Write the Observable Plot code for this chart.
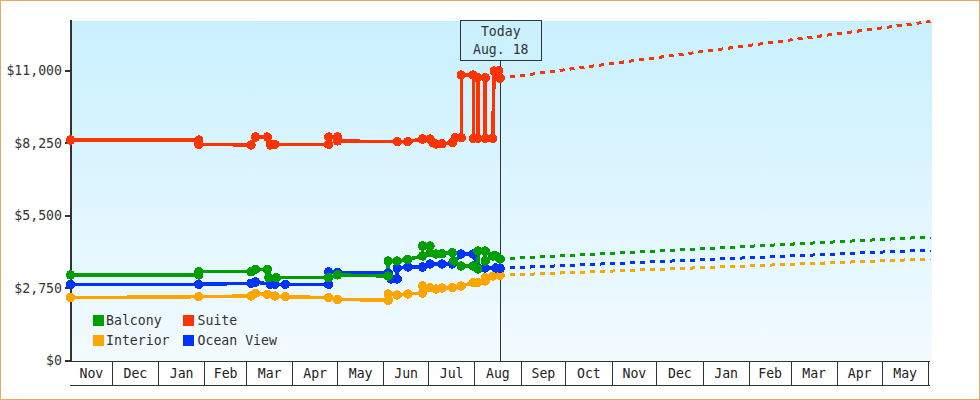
<!DOCTYPE html>
<html>
<head>
<meta charset="utf-8">
<script src="https://cdn.jsdelivr.net/npm/d3@7"></script>
<script src="https://cdn.jsdelivr.net/npm/@observablehq/plot@0.6"></script>
<style>
  html, body { margin: 0; padding: 0; background: #fff; overflow: hidden; width: 980px; height: 400px; }
  #wrap { position: relative; width: 980px; height: 400px; font-family: "DejaVu Sans Mono", monospace; font-size: 13.2px; color: #333; }
  #wrap svg { position: absolute; left: 0; top: 0; shape-rendering: crispEdges; }
  #border { position: absolute; inset: 0; border: 1.5px solid #e8a964; box-sizing: border-box; pointer-events: none; }
  #today { position: absolute; left: 460px; top: 20px; width: 79.5px; border: 1px solid #333; text-align: center; line-height: 18px; padding-top: 2px; box-sizing: content-box; height: 37px; }
  .lg { position: absolute; white-space: pre; line-height: 12px; }
  .sw { position: absolute; width: 11px; height: 11px; }
</style>
</head>
<body>
<div id="wrap"></div>
<script>
const seriesNames = ["Balcony", "Suite", "Interior", "Ocean View"];
const seriesColors = ["#009f00", "#ff3300", "#ffa500", "#0033ff"];
const todayDate = "2017-08-18";
const endDate = "2018-06-02T12:00";
const startDate = "2016-11-03";

const suiteDates = ["2016-11-03","2017-01-28","2017-01-28","2017-03-04","2017-03-07","2017-03-15","2017-03-17","2017-03-20","2017-04-25","2017-04-25","2017-05-01","2017-05-01","2017-06-10","2017-06-17","2017-06-27","2017-07-02","2017-07-04","2017-07-06","2017-07-10","2017-07-17","2017-07-19","2017-07-23","2017-07-23","2017-07-31","2017-07-31","2017-08-03","2017-08-03","2017-08-08","2017-08-08","2017-08-13","2017-08-14","2017-08-17","2017-08-18"];
const suiteValues = [8382,8382,8219,8193,8496,8496,8193,8219,8219,8496,8496,8345,8318,8318,8420,8420,8280,8231,8242,8280,8470,8470,10848,10848,8447,8447,10745,10745,8447,8447,11000,11000,10723];

const balconyDates = ["2016-11-03","2017-01-28","2017-01-28","2017-03-04","2017-03-07","2017-03-15","2017-03-16","2017-03-21","2017-04-25","2017-05-01","2017-06-04","2017-06-04","2017-06-10","2017-06-17","2017-06-27","2017-06-27","2017-07-02","2017-07-02","2017-07-06","2017-07-10","2017-07-17","2017-07-18","2017-07-23","2017-07-31","2017-08-03","2017-08-03","2017-08-08","2017-08-08","2017-08-13","2017-08-15","2017-08-18"];
const balconyValues = [3262,3262,3387,3387,3478,3478,3160,3160,3160,3262,3224,3793,3793,3857,3983,4362,4362,4108,4059,4070,4108,3793,3603,3603,3490,4172,4172,3793,3983,3983,3869];

const oceanDates = ["2016-11-03","2017-01-28","2017-03-04","2017-03-07","2017-03-17","2017-03-20","2017-03-27","2017-04-25","2017-04-25","2017-05-01","2017-06-04","2017-06-06","2017-06-10","2017-06-10","2017-06-17","2017-06-27","2017-07-02","2017-07-10","2017-07-17","2017-07-23","2017-07-31","2017-08-03","2017-08-08","2017-08-15","2017-08-18"];
const oceanValues = [2909,2909,2947,2996,2909,2909,2909,2909,3376,3349,3338,3110,3110,3528,3565,3565,3679,3679,3679,4059,4059,3528,3528,3528,3516];

const interiorDates = ["2016-11-03","2017-01-28","2017-03-04","2017-03-07","2017-03-15","2017-03-20","2017-03-27","2017-04-25","2017-05-01","2017-06-04","2017-06-04","2017-06-10","2017-06-17","2017-06-27","2017-06-27","2017-07-02","2017-07-06","2017-07-10","2017-07-17","2017-07-23","2017-07-31","2017-08-03","2017-08-08","2017-08-08","2017-08-13","2017-08-18"];
const interiorValues = [2401,2439,2465,2568,2530,2465,2439,2401,2340,2302,2541,2503,2541,2579,2845,2780,2731,2769,2780,2845,2970,2970,3034,3160,3224,3251];

const forecastFrom = [3869, 10723, 3251, 3516];
const forecastTo = [4703, 12877, 3869, 4210];

const yTicks = [0, 2750, 5500, 8250, 11000];
const monthLabels = ["Nov","Dec","Jan","Feb","Mar","Apr","May","Jun","Jul","Aug","Sep","Oct","Nov","Dec","Jan","Feb","Mar","Apr","May"];
const monthStarts = ["2016-12-01","2017-01-01","2017-02-01","2017-03-01","2017-04-01","2017-05-01","2017-06-01","2017-07-01","2017-08-01","2017-09-01","2017-10-01","2017-11-01","2017-12-01","2018-01-01","2018-02-01","2018-03-01","2018-04-01","2018-05-01","2018-06-01"];

const D = s => new Date(s.length === 10 ? s + "T00:00" : s);
const history = [
  ["Interior", interiorDates, interiorValues],
  ["Ocean View", oceanDates, oceanValues],
  ["Balcony", balconyDates, balconyValues],
  ["Suite", suiteDates, suiteValues]
].flatMap(([s, ds, vs]) => ds.map((d, i) => ({series: s, date: D(d), value: vs[i]})));
const forecast = seriesNames.flatMap((s, i) => [
  {series: s, date: D(todayDate), value: forecastFrom[i]},
  {series: s, date: D(endDate), value: forecastTo[i]}
]);
const edges = [D(startDate), ...monthStarts.map(D)];
const months = monthLabels.map((m, i) => ({label: m, mid: new Date((+edges[i] + +edges[i + 1]) / 2)}));

const defs = () => {
  const ns = "http://www.w3.org/2000/svg";
  const d = document.createElementNS(ns, "defs");
  d.innerHTML = '<linearGradient id="bg" x1="0" y1="0" x2="0" y2="1"><stop offset="0" stop-color="#c9f0ff"/><stop offset="1" stop-color="#f3fbff"/></linearGradient>';
  return d;
};

const chart = Plot.plot({
  width: 980, height: 400,
  marginLeft: 70, marginRight: 50, marginTop: 20, marginBottom: 39.5,
  style: {fontFamily: '"DejaVu Sans Mono", monospace', fontSize: "13.2px", color: "#333", background: "transparent"},
  x: {type: "time", domain: [D(startDate), D(endDate)]},
  y: {type: "linear", domain: [0, 12915]},
  color: {domain: seriesNames, range: seriesColors},
  marks: [
    defs,
    Plot.frame({fill: "url(#bg)", stroke: "none", insetRight: -1}),
    Plot.ruleX([D(startDate)], {stroke: "#333", strokeWidth: 2, dx: 0.5}),
    Plot.axisY({ticks: yTicks, tickSize: 6, tickPadding: 3, tickFormat: d3.format("$,"), label: null, stroke: "#333", strokeWidth: 2, fill: "#333", dx: 0.5}),
    Plot.axisX({ticks: edges.slice(1), tickSize: 24.5, tickFormat: () => "", label: null, stroke: "#333", strokeWidth: 1}),
    Plot.ruleY([0], {stroke: "#333", strokeWidth: 1}),
    Plot.ruleY([0], {stroke: "#333", strokeWidth: 1, dy: 24.5}),
    Plot.text(months, {x: "mid", text: "label", frameAnchor: "bottom", dy: 13, lineAnchor: "middle", fill: "#222"}),
    Plot.ruleX([D(todayDate)], {y1: 0, y2: 11398, stroke: "#333", strokeWidth: 1}),
    Plot.line(forecast, {x: "date", y: "value", z: "series", stroke: "series", strokeWidth: 3, strokeDasharray: "5,5", curve: "linear", strokeLinecap: "butt"}),
    Plot.line(history, {x: "date", y: "value", z: "series", stroke: "series", strokeWidth: 3.5, curve: "linear"}),
    Plot.dot(history, {x: "date", y: "value", fill: "series", r: 4.7, stroke: "none"})
  ]
});

const wrap = document.getElementById("wrap");
wrap.appendChild(chart);
const today = document.createElement("div");
today.id = "today";
today.innerHTML = "Today<br>Aug. 18";
wrap.appendChild(today);
const legendSpots = [[93, 315], [183, 315], [93, 335], [183, 335]];
seriesNames.forEach((n, i) => {
  const [lx, ly] = legendSpots[i];
  const sw = document.createElement("div");
  sw.className = "sw"; sw.style.left = lx + "px"; sw.style.top = ly + "px"; sw.style.background = seriesColors[i];
  wrap.appendChild(sw);
  const t = document.createElement("div");
  t.className = "lg"; t.style.left = (lx + 13 + (i % 2 ? 1.5 : 0)) + "px"; t.style.top = (ly - 1) + "px"; t.style.lineHeight = "13px"; t.textContent = n;
  wrap.appendChild(t);
});
const b = document.createElement("div"); b.id = "border"; wrap.appendChild(b);
</script>
</body>
</html>
